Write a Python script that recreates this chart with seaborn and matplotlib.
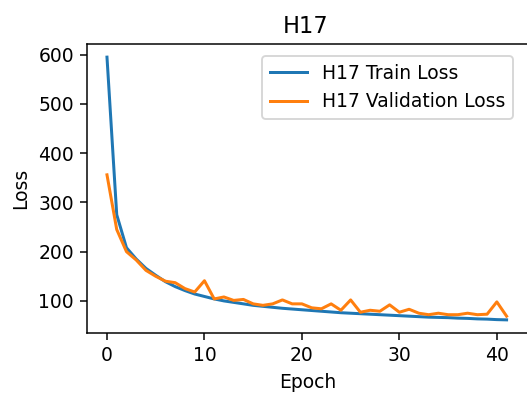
import matplotlib
matplotlib.use("Agg")
import matplotlib.pyplot as plt
import seaborn as sns
import pandas as pd

epochs = list(range(42))
train_loss = [595, 275, 208, 185, 166, 152, 139, 129, 121, 114,
              109, 104, 100, 97, 94, 91, 89, 87, 85, 83.5,
              82, 80.5, 79, 77.5, 76, 75, 74, 73, 72, 71,
              70, 69, 68, 67, 66.5, 66, 65, 64.5, 63.5, 63,
              62, 61.5]
val_loss = [356, 245, 200, 183, 162, 150, 140, 137, 125, 118,
            141, 104, 108, 101, 103, 94, 91, 94, 102, 94,
            94, 86, 84, 94, 81, 102, 77, 81, 79, 92,
            77, 83, 75, 72, 75, 72, 72, 75, 72, 73,
            98, 69]
title = "H17"
series_names = ["H17 Train Loss", "H17 Validation Loss"]

df = pd.DataFrame({"Epoch": epochs, series_names[0]: train_loss, series_names[1]: val_loss})
long_df = df.melt(id_vars="Epoch", var_name="Series", value_name="Loss")

dpi = 135
fig = plt.figure(figsize=(527 / dpi, 396 / dpi), dpi=dpi)
ax = fig.add_axes([87 / 527, 1 - 333 / 396, (529 - 87) / 527, (333 - 44) / 396])

sns.lineplot(data=long_df, x="Epoch", y="Loss", hue="Series",
             palette=["#1f77b4", "#ff7f0e"], ax=ax, linewidth=1.6)
ax.set_xlim(-2.05, 43.3)
ax.set_title(title, x=(306 - 87) / (529 - 87))
ax.set_xlabel("Epoch")
ax.set_ylabel("Loss")
ax.legend(loc="upper right", title=None, bbox_to_anchor=(0.985, 0.99))

fig.savefig("out.png", dpi=dpi)
